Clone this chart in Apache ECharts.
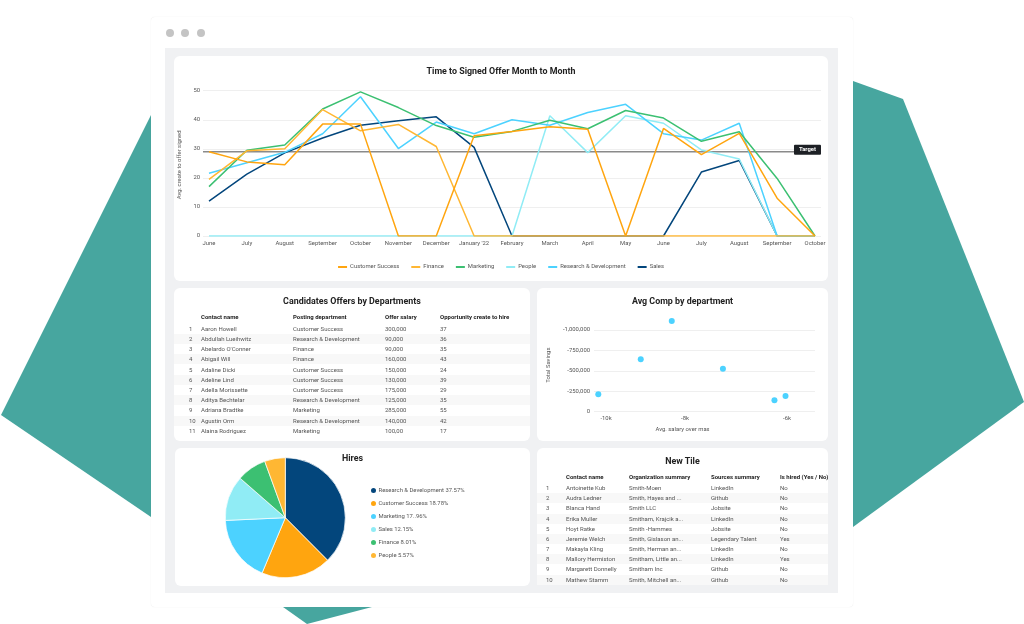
<!DOCTYPE html>
<html>
<head>
<meta charset="utf-8">
<script src="https://cdn.jsdelivr.net/npm/echarts@6/dist/echarts.min.js"></script>
<style>
html, body { margin:0; padding:0; background:#fff; }
body { width:1024px; height:624px; position:relative; overflow:hidden; font-family:Roboto, sans-serif; }
#shapes { position:absolute; left:0; top:0; }
.frame { position:absolute; left:151px; top:17px; width:702px; height:590px; background:#fff; border-radius:4px; box-shadow:0 0 1px rgba(0,0,0,.12); }
.dot { position:absolute; top:29px; width:8px; height:8px; border-radius:50%; background:#c4c4c4; }
.desk { position:absolute; left:165px; top:48px; width:673px; height:545px; background:#f0f1f3; }
.panel { position:absolute; background:#fff; border-radius:6px; overflow:hidden; }
.panel .chart { width:100%; height:100%; }
.ttl { position:absolute; left:0; right:0; text-align:center; font-weight:700; font-size:8.9px; line-height:14px; color:#222; will-change:transform; }
.row { position:absolute; left:0; right:0; height:10.2px; line-height:10.2px; font-size:6px; color:#555; white-space:nowrap; }
.row.alt { background:#f8f8f8; }
.row.head { font-weight:700; color:#222; }
.row span { position:absolute; top:0; will-change:transform; }
</style>
</head>
<body>
<svg id="shapes" width="1024" height="624">
  <polygon points="151,115 1,415 151,517" fill="#47a69f"/>
  <polygon points="853,81 903,99 1024,402 853,527" fill="#47a69f"/>
  <polygon points="283,607 307,624 372,607" fill="#47a69f"/>
</svg>
<div class="frame"></div>
<div class="dot" style="left:166px"></div>
<div class="dot" style="left:181px"></div>
<div class="dot" style="left:197px"></div>
<div class="desk"></div>
<div class="panel" style="left:174px;top:56px;width:654px;height:225px"><div class="chart" id="lineChart"></div></div>
<div class="panel" id="offers" style="left:174px;top:288px;width:356px;height:153px"><div class="ttl" style="top:6px">Candidates Offers by Departments</div></div>
<div class="panel" style="left:537px;top:288px;width:291px;height:153px"><div class="chart" id="scatterChart"></div></div>
<div class="panel" style="left:175px;top:448px;width:355px;height:138px"><div class="chart" id="pieChart"></div></div>
<div class="panel" id="tile" style="left:537px;top:448px;width:291px;height:137px;border-radius:6px 6px 0 0"><div class="ttl" style="top:6px">New Tile</div></div>

<script>
var FONT = 'Roboto, sans-serif'

// time to signed offer
var months = ['June','July','August','September','October','November','December',"January '22",'February','March','April','May','June','July','August','September','October']
var customerSuccess = [29,25.5,24.5,38.5,38.5,0,0,34.5,36,37.6,36.7,0,37,28,35.3,13,0]
var finance = [19.5,29.3,30,43.5,36.2,38.4,30.8,0,0,0,0,0,0,0,0,0,0]
var marketing = [17,29.5,31.3,43.7,49.6,44.2,38,34,36,39.8,36.9,43.2,40.6,32.6,35.9,19.8,0]
var people = [0,0,0,0,0,0,0,0,0,41.4,28.7,41.4,38.8,29.6,26.5,0,0]
var research = [21.6,25.2,28.8,35.2,47.9,30.1,39.2,35.2,40,38.1,42.5,45.3,35.2,33,38.8,0,0]
var sales = [12,21.3,28.6,33.7,38.1,39.7,41,30.5,0,0,0,0,0,22,26,0,0]
var target = 29

// avg comp
var salaryOverMax = [-10220,-9066,-8306,-7190,-6217,-6026]
var totalSavings = [-213000,-641000,-1110000,-526000,-140000,-192000]

// hires
var hireNames = ['Research & Development','Customer Success','Marketing','Sales','Finance','People']
var hireValues = [37.57,18.78,17.96,12.15,8.01,5.57]
var hireLabels = ['37.57%','18.78%','17..96%','12.15%','8.01%','5.57%']
var hireColors = ['#03467c','#ffa50f','#4cd2ff','#90ecf5','#3cc072','#ffb733']

// tables
var offerHead = ['','Contact name','Posting department','Offer salary','Opportunity create to hire']
var offerNames = ['Aaron Howell','Abdullah Lueihwitz',"Abelardo O'Conner",'Abigail Will','Adaline Dicki','Adeline Lind','Adella Morissette','Aditya Bechtelar','Adriana Bradtke','Agustin Orm','Alaina Rodriguez']
var offerDepts = ['Customer Success','Research & Development','Finance','Finance','Customer Success','Customer Success','Customer Success','Research & Development','Marketing','Research & Development','Marketing']
var offerSalary = ['300,000','90,000','90,000','160,000','150,000','130,000','175,000','125,000','285,000','140,000','100,00']
var offerOpp = ['37','36','35','43','24','39','29','35','55','42','17']

var tileHead = ['','Contact name','Organization summary','Sources summary','Is hired (Yes / No)']
var tileNames = ['Antoinette Kub','Audra Ledner','Blanca Hand','Erika Muller','Hoyt Ratke','Jeremie Welch','Makayla Kling','Mallory Hermiston','Margarett Donnelly','Mathew Stamm']
var tileOrgs = ['Smith-Moen','Smith, Hayes and ...','Smith LLC','Smitham, Krajcik a...','Smith -Hammes','Smith, Gislason an...','Smith, Herman an...','Smitham, Little an...','Smitham Inc','Smith, Mitchell an...']
var tileSources = ['LinkedIn','Github','Jobsite','LinkedIn','Jobsite','Legendary Talent','LinkedIn','LinkedIn','Github','Github']
var tileHired = ['No','No','No','No','No','Yes','No','Yes','No','No']

function addRow(box, cells, lefts, top, cls) {
    var row = document.createElement('div')
    row.className = 'row ' + cls
    row.style.top = top + 'px'
    cells.forEach(function (text, i) {
        var s = document.createElement('span')
        s.textContent = text
        s.style.left = lefts[i] + 'px'
        row.appendChild(s)
    })
    box.appendChild(row)
}

function buildTable(id, head, cols, lefts, headTop, firstTop, step) {
    var box = document.getElementById(id)
    addRow(box, head, lefts, headTop, 'head')
    cols[0].forEach(function (v, r) {
        var cells = [String(r + 1)]
        cols.forEach(function (c) { cells.push(c[r]) })
        addRow(box, cells, lefts, firstTop + r * step, r % 2 ? 'alt' : '')
    })
}

buildTable('offers', offerHead, [offerNames, offerDepts, offerSalary, offerOpp], [15,26.5,119,211,266], 24.3, 35.7, 10.2)
buildTable('tile', tileHead, [tileNames, tileOrgs, tileSources, tileHired], [9,29,92,174,243], 23.8, 35, 10.17)

var axisText = { fontFamily: FONT, fontSize: 5.9, color: '#555' }

function lineSeries(name, data, color) {
    return { name: name, type: 'line', data: data, xAxisIndex: 1, yAxisIndex: 1, symbol: 'none', lineStyle: { width: 1.5, color: color }, itemStyle: { color: color }, z: 3 }
}

var lineChart = echarts.init(document.getElementById('lineChart'))
lineChart.setOption({
    animation: false,
    title: { text: 'Time to Signed Offer Month to Month', left: 'center', top: 6, padding: [5, 5], textStyle: { fontFamily: FONT, fontSize: 8.9, fontWeight: 700, color: '#222' } },
    legend: {
        bottom: 6, icon: 'rect', itemWidth: 9, itemHeight: 2, itemGap: 12,
        textStyle: { fontFamily: FONT, fontSize: 5.9, color: '#555', padding: [0, 0, 0, -2] },
        data: ['Customer Success','Finance','Marketing','People','Research & Development','Sales']
    },
    grid: [
        { left: 29, right: 7, top: 34.7, bottom: 45, outerBoundsMode: 'none' },
        { left: 35, right: 13, top: 34.7, bottom: 45, outerBoundsMode: 'none' }
    ],
    xAxis: [
        { type: 'category', gridIndex: 0, boundaryGap: false, data: ['a','b'], show: false },
        { type: 'category', gridIndex: 1, boundaryGap: false, data: months, axisLine: { show: false }, axisTick: { show: false },
          axisLabel: Object.assign({ interval: 0, margin: 5, showMinLabel: true, showMaxLabel: true, hideOverlap: false }, axisText) }
    ],
    yAxis: [
        { type: 'value', gridIndex: 0, min: 0, max: 50, interval: 10, splitLine: { lineStyle: { color: '#efefef' } },
          axisLabel: Object.assign({ margin: 3 }, axisText),
          name: 'Avg. create to offer signed', nameLocation: 'middle', nameGap: 10, nameTextStyle: Object.assign({ padding: [0, 3, 0, 0] }, axisText) },
        { type: 'value', gridIndex: 1, min: 0, max: 50, show: false }
    ],
    series: [
        { name: 'Target', type: 'line', xAxisIndex: 0, yAxisIndex: 0, symbol: 'circle', symbolSize: 0, silent: true, z: 2,
          lineStyle: { color: '#8a8a8a', width: 1.5 },
          data: [target, { value: target, label: { show: true, position: 'left', distance: 0, offset: [0, -2], formatter: 'Target',
              fontFamily: FONT, fontSize: 5.9, fontWeight: 700, color: '#fff', backgroundColor: '#1d2025', padding: [2, 5], borderRadius: 1 } }] },
        lineSeries('Sales', sales, '#03467c'),
        lineSeries('People', people, '#90ecf5'),
        lineSeries('Research & Development', research, '#4cd2ff'),
        lineSeries('Marketing', marketing, '#3cc072'),
        lineSeries('Finance', finance, '#ffb733'),
        lineSeries('Customer Success', customerSuccess, '#ffa50f')
    ]
})

var xTicks = [10000, 8000, 6000].map(function (v) { return Math.log10(v) })
var scatterChart = echarts.init(document.getElementById('scatterChart'))
scatterChart.setOption({
    animation: false,
    title: { text: 'Avg Comp by department', left: 'center', top: 4, padding: [5, 5], textStyle: { fontFamily: FONT, fontSize: 8.9, fontWeight: 700, color: '#222' } },
    grid: { left: 57, right: 13, top: 21.6, bottom: 29.3, outerBoundsMode: 'none' },
    // x is a log scale of the salary gap
    xAxis: {
        type: 'value', inverse: true, min: 3.7439, max: 4.0147,
        axisLine: { show: false }, axisTick: { show: false }, splitLine: { show: false },
        axisLabel: Object.assign({ margin: 4, customValues: xTicks, formatter: function (v) { return '-' + Math.round(Math.pow(10, v) / 1000) + 'k' } }, axisText),
        name: 'Avg. salary over max', nameLocation: 'middle', nameGap: 15, nameTextStyle: Object.assign({ padding: [0, 44, 0, 0] }, axisText)
    },
    yAxis: {
        type: 'value', inverse: true, min: -1250000, max: 0, interval: 250000,
        axisLine: { show: false }, axisTick: { show: false },
        splitLine: { showMinLine: false, lineStyle: { color: '#efefef' } },
        axisLabel: Object.assign({ margin: 4, showMinLabel: false, formatter: function (v) { return v.toLocaleString('en-US') } }, axisText),
        name: 'Total Savings', nameLocation: 'middle', nameGap: 40, nameTextStyle: Object.assign({ padding: [0, 9, 0, 0] }, axisText)
    },
    series: [{
        type: 'scatter', symbolSize: 6, itemStyle: { color: '#4cd2ff', opacity: 1 },
        data: salaryOverMax.map(function (x, i) { return [Math.log10(-x), totalSavings[i]] })
    }]
})

var pieChart = echarts.init(document.getElementById('pieChart'))
pieChart.setOption({
    animation: false,
    title: { text: 'Hires', left: 'center', top: 1, padding: [5, 5], textStyle: { fontFamily: FONT, fontSize: 8.9, fontWeight: 700, color: '#222' } },
    legend: {
        orient: 'vertical', left: 194, top: 38, padding: 0, icon: 'circle', itemWidth: 7, itemHeight: 7, itemGap: 4,
        textStyle: { fontFamily: FONT, fontSize: 5.9, color: '#555', padding: [0, 0, 0, -3.5] },
        formatter: function (name) { return name + ' ' + hireLabels[hireNames.indexOf(name)] }
    },
    series: [{
        type: 'pie', center: [110.3, 69.7], radius: 60, label: { show: false }, labelLine: { show: false }, silent: true,
        itemStyle: { borderColor: '#fff', borderWidth: 0.7 },
        data: hireNames.map(function (n, i) { return { name: n, value: hireValues[i], itemStyle: { color: hireColors[i] } } })
    }]
})
</script>
</body>
</html>
